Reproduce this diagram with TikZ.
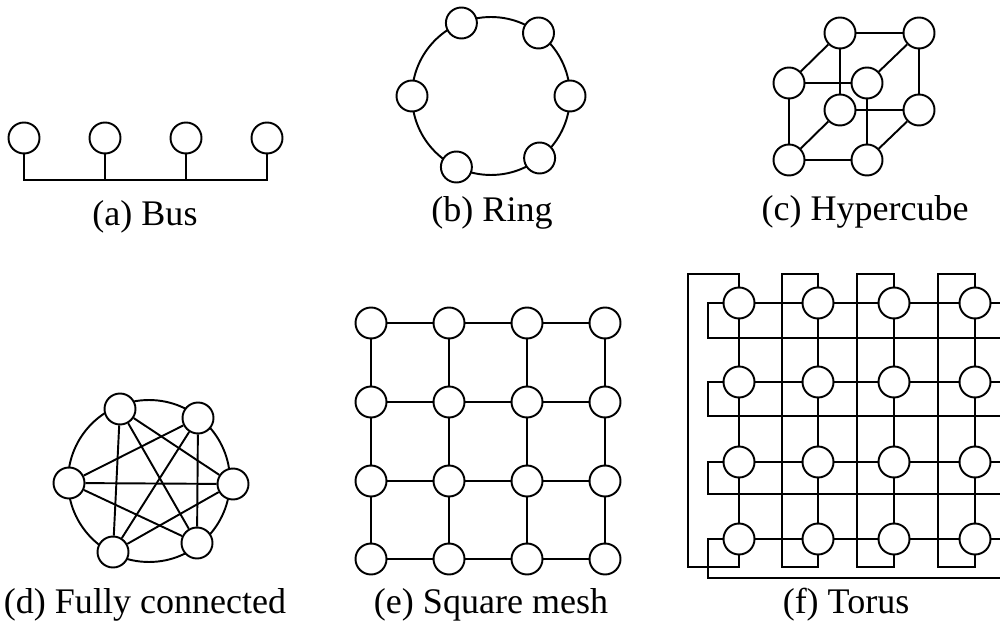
\documentclass[tikz,border=0pt]{standalone}
\usepackage{fontspec}
\setmainfont{Liberation Serif}
\begin{document}
\begin{tikzpicture}[x=0.02cm,y=-0.02cm,
  pe/.style={circle,draw,fill=white,minimum size=0.62cm,inner sep=0pt,line width=1.1pt},
  link/.style={line width=1.1pt},
  caption/.style={font=\fontsize{20.5}{24}\selectfont,inner sep=0pt}]
\useasboundingbox (0,0) rectangle (1000,624);

% (a) Bus
\foreach \i/\x in {1/24,2/105,3/186,4/267} \node[pe] (a\i) at (\x,138) {};
\coordinate (abl) at (24,180);
\coordinate (abr) at (267,180);
\draw[link] (a1.south) -- (abl) -- (abr) -- (a4.south);
\foreach \i in {2,3} \draw[link] (a\i.south) -- (a\i.south |- abl);
\node[caption] (capa) at (145,217) {(a) Bus};

% (b) Ring
\draw[link] (491,96) circle [radius=1.58cm];
\node[pe] (b1) at (570,96) {};
\node[pe] (b2) at (538.5,33) {};
\node[pe] (b3) at (461.4,23) {};
\node[pe] (b4) at (412,96) {};
\node[pe] (b5) at (456.4,167) {};
\node[pe] (b6) at (539.6,158) {};
\node[caption] (capb) at (492,213) {(b) Ring};

% (c) Hypercube
\node[pe] (c1) at (840,33) {};
\node[pe] (c2) at (919,33) {};
\node[pe] (c3) at (789,83) {};
\node[pe] (c4) at (867,83) {};
\node[pe] (c5) at (840,110) {};
\node[pe] (c6) at (919,110) {};
\node[pe] (c7) at (789,160) {};
\node[pe] (c8) at (867,160) {};
\foreach \p/\q in {c1/c2,c1/c3,c1/c5,c2/c4,c2/c6,c3/c4,c3/c7,c4/c8,c5/c6,c5/c7,c6/c8,c7/c8}
  \draw[link] (\p) -- (\q);
\node[caption] (capc) at (865,212) {(c) Hypercube};

% (d) Fully connected
\draw[link] (149,481) circle [radius=1.62cm];
\node[pe] (d1) at (120,409) {};
\node[pe] (d2) at (198,418) {};
\node[pe] (d3) at (233,484) {};
\node[pe] (d4) at (197,543) {};
\node[pe] (d5) at (113,552) {};
\node[pe] (d6) at (69,483) {};
\foreach \p/\q in {d1/d3,d1/d4,d1/d5,d2/d4,d2/d5,d2/d6,d3/d5,d3/d6,d4/d6}
  \draw[link] (\p) -- (\q);
\node[caption] (capd) at (145,605) {(d) Fully connected};

% (e) Square mesh
\foreach \r/\y in {1/323,2/402,3/481,4/559}
  \foreach \c/\x in {1/371,2/449,3/527,4/605}
    \node[pe] (e\r\c) at (\x,\y) {};
\foreach \r in {1,2,3,4}
  \foreach \c/\n in {1/2,2/3,3/4} {
    \draw[link] (e\r\c) -- (e\r\n);
    \draw[link] (e\c\r) -- (e\n\r);
  }
\node[caption] (cape) at (491,605) {(e) Square mesh};

% (f) Torus
\foreach \r/\y in {1/303,2/382,3/462,4/539}
  \foreach \c/\x in {1/739,2/818,3/894,4/975}
    \node[pe] (f\r\c) at (\x,\y) {};
\foreach \r in {1,2,3,4}
  \foreach \c/\n in {1/2,2/3,3/4} {
    \draw[link] (f\r\c) -- (f\r\n);
    \draw[link] (f\c\r) -- (f\n\r);
  }
% column wrap-around links
\foreach \c/\xr in {1/688,2/782,3/857,4/938}
  \draw[link] (f1\c.north) |- (\xr,274) -- (\xr,567) -| (f4\c.south);
% row wrap-around links
\foreach \r/\y/\yb in {1/303/338,2/382/416,3/462/494,4/539/578} {
  \draw[link] (f\r1.west) -| (708,\yb) -- (1000,\yb);
  \draw[link] (f\r4.east) -- (1000,\y);
}
\node[caption] (capf) at (846,605) {(f) Torus};
\end{tikzpicture}
\end{document}
